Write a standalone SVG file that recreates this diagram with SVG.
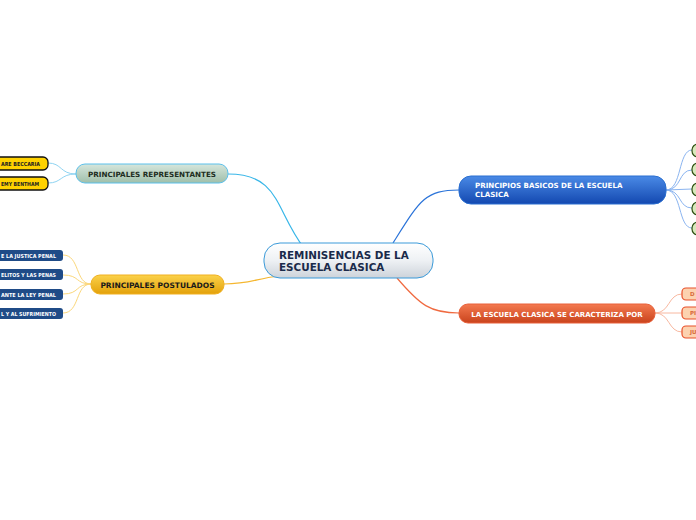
<svg xmlns="http://www.w3.org/2000/svg" width="696" height="520" viewBox="0 0 696 520">
<defs>
<linearGradient id="gCentral" x1="0" y1="0" x2="0" y2="1"><stop offset="0" stop-color="#ffffff"/><stop offset="0.5" stop-color="#eef1f4"/><stop offset="1" stop-color="#cdd3da"/></linearGradient>
<linearGradient id="gRep" x1="0" y1="0" x2="0" y2="1"><stop offset="0" stop-color="#d6e6dc"/><stop offset="1" stop-color="#9fbfaa"/></linearGradient>
<linearGradient id="gPost" x1="0" y1="0" x2="0" y2="1"><stop offset="0" stop-color="#fbd24a"/><stop offset="1" stop-color="#e3a10a"/></linearGradient>
<linearGradient id="gBlue" x1="0" y1="0" x2="0" y2="1"><stop offset="0" stop-color="#4a8ae6"/><stop offset="1" stop-color="#1348b0"/></linearGradient>
<linearGradient id="gRed" x1="0" y1="0" x2="0" y2="1"><stop offset="0" stop-color="#f47a50"/><stop offset="1" stop-color="#c9431c"/></linearGradient>
</defs>
<style>
.t{font-family:Verdana,"DejaVu Sans",sans-serif;font-weight:bold}
.conn path{fill:none}
</style>
<g id="connectors" class="conn">
<path d="M228,174 C280,174 275,210 304,248" stroke="#38b6e8" stroke-width="1.2"/>
<path d="M224,284 C250,284 255,279 278,276" stroke="#f5b730" stroke-width="1.2"/>
<path d="M393,243 C420,200 425,190 459,190" stroke="#2a73d9" stroke-width="1.2"/>
<path d="M397,278 C420,305 430,313 459,313" stroke="#f06a40" stroke-width="1.2"/>
<path d="M76,174 C60,174 62,163 48,163" stroke="#8fd4f2"/>
<path d="M76,174 C60,174 62,183 48,183" stroke="#8fd4f2"/>
<path d="M91,284 C75,284 80,255 63,255" stroke="#fbd77a"/>
<path d="M91,284 C75,284 80,275 63,275" stroke="#fbd77a"/>
<path d="M91,284 C75,284 80,294 63,294" stroke="#fbd77a"/>
<path d="M91,284 C75,284 80,313 63,313" stroke="#fbd77a"/>
<path d="M666,190 C682,190 678,150 692,150" stroke="#8ab4f0"/>
<path d="M666,190 C682,190 678,170 692,170" stroke="#8ab4f0"/>
<path d="M666,190 L692,189" stroke="#8ab4f0"/>
<path d="M666,190 C682,190 678,208 692,208" stroke="#8ab4f0"/>
<path d="M666,190 C682,190 678,228 692,228" stroke="#8ab4f0"/>
<path d="M655,313 C670,313 668,294 682,294" stroke="#f8b8a0"/>
<path d="M655,313 L682,313" stroke="#f8b8a0"/>
<path d="M655,313 C670,313 668,332 682,332" stroke="#f8b8a0"/>
</g>
<g id="central">
<rect x="264" y="243" width="169" height="35" rx="16" fill="url(#gCentral)" stroke="#3a9ad9" stroke-width="1"/>
<text class="t" x="279" y="259" font-size="10.4" fill="#1a2a4a">REMINISENCIAS DE LA</text>
<text class="t" x="279" y="271" font-size="10.4" fill="#1a2a4a">ESCUELA CLASICA</text>
</g>
<g id="representantes">
<rect x="76" y="164" width="152" height="19" rx="9" fill="url(#gRep)" stroke="#5bc0eb"/>
<text class="t" x="152" y="176.5" font-size="7.2" fill="#1e2e22" text-anchor="middle">PRINCIPALES REPRESENTANTES</text>
</g>
<g id="beccaria">
<rect x="-30" y="157" width="78" height="13" rx="5" fill="#ffd200" stroke="#111" stroke-width="1.3"/>
<text class="t" x="1" y="165.8" font-size="5.4" fill="#222" textLength="39" lengthAdjust="spacingAndGlyphs">ARE BECCARIA</text>
</g>
<g id="bentham">
<rect x="-30" y="177" width="78" height="13" rx="5" fill="#ffd200" stroke="#111" stroke-width="1.3"/>
<text class="t" x="1" y="185.8" font-size="5.4" fill="#222" textLength="38" lengthAdjust="spacingAndGlyphs">EMY BENTHAM</text>
</g>
<g id="postulados">
<rect x="91" y="275" width="133" height="19" rx="9" fill="url(#gPost)" stroke="#f0b020"/>
<text class="t" x="157.5" y="287.5" font-size="7.5" fill="#1a1a1a" text-anchor="middle">PRINCIPALES POSTULADOS</text>
</g>
<g id="post1">
<rect x="-40" y="250" width="103" height="11" rx="3" fill="#1f4b87"/>
<text class="t" x="1" y="257.8" font-size="5.4" fill="#fff" textLength="55" lengthAdjust="spacingAndGlyphs">E LA JUSTICA PENAL</text>
</g>
<g id="post2">
<rect x="-40" y="269" width="103" height="11" rx="3" fill="#1f4b87"/>
<text class="t" x="1" y="276.8" font-size="5.4" fill="#fff" textLength="55" lengthAdjust="spacingAndGlyphs">ELITOS Y LAS PENAS</text>
</g>
<g id="post3">
<rect x="-40" y="289" width="103" height="11" rx="3" fill="#1f4b87"/>
<text class="t" x="1" y="296.8" font-size="5.4" fill="#fff" textLength="55" lengthAdjust="spacingAndGlyphs">ANTE LA LEY PENAL</text>
</g>
<g id="post4">
<rect x="-40" y="308" width="103" height="11" rx="3" fill="#1f4b87"/>
<text class="t" x="1" y="315.8" font-size="5.4" fill="#fff" textLength="55" lengthAdjust="spacingAndGlyphs">L Y AL SUFRIMIENTO</text>
</g>
<g id="principios">
<rect x="459" y="176" width="207" height="28" rx="12" fill="url(#gBlue)" stroke="#2a6fd0"/>
<text class="t" x="475" y="188" font-size="7.1" fill="#fff">PRINCIPIOS BASICOS DE LA ESCUELA</text>
<text class="t" x="475" y="197" font-size="7.1" fill="#fff">CLASICA</text>
</g>
<g id="pb1"><rect x="692" y="144" width="20" height="13" rx="6" fill="#d8e8bc" stroke="#2d4f12" stroke-width="1.2"/></g>
<g id="pb2"><rect x="692" y="163" width="20" height="13" rx="6" fill="#d8e8bc" stroke="#2d4f12" stroke-width="1.2"/></g>
<g id="pb3"><rect x="692" y="183" width="20" height="13" rx="6" fill="#d8e8bc" stroke="#2d4f12" stroke-width="1.2"/></g>
<g id="pb4"><rect x="692" y="202" width="20" height="13" rx="6" fill="#d8e8bc" stroke="#2d4f12" stroke-width="1.2"/></g>
<g id="pb5"><rect x="692" y="222" width="20" height="13" rx="6" fill="#d8e8bc" stroke="#2d4f12" stroke-width="1.2"/></g>
<g id="caracteriza">
<rect x="459" y="304" width="196" height="19" rx="9" fill="url(#gRed)" stroke="#e8603a"/>
<text class="t" x="557" y="316.5" font-size="7" fill="#fff" text-anchor="middle">LA ESCUELA CLASICA SE CARACTERIZA POR</text>
</g>
<g id="c1"><rect x="682" y="288" width="30" height="12" rx="4" fill="#fcd2b0" stroke="#e8502a" stroke-width="1.2"/><text class="t" x="690" y="296" font-size="5.5" fill="#d86a3a">D</text></g>
<g id="c2"><rect x="682" y="307" width="30" height="12" rx="4" fill="#fcd2b0" stroke="#e8502a" stroke-width="1.2"/><text class="t" x="690" y="315" font-size="5.5" fill="#d86a3a">PI</text></g>
<g id="c3"><rect x="682" y="326" width="30" height="12" rx="4" fill="#fcd2b0" stroke="#e8502a" stroke-width="1.2"/><text class="t" x="690" y="334" font-size="5.5" fill="#d86a3a">JU</text></g>
</svg>
